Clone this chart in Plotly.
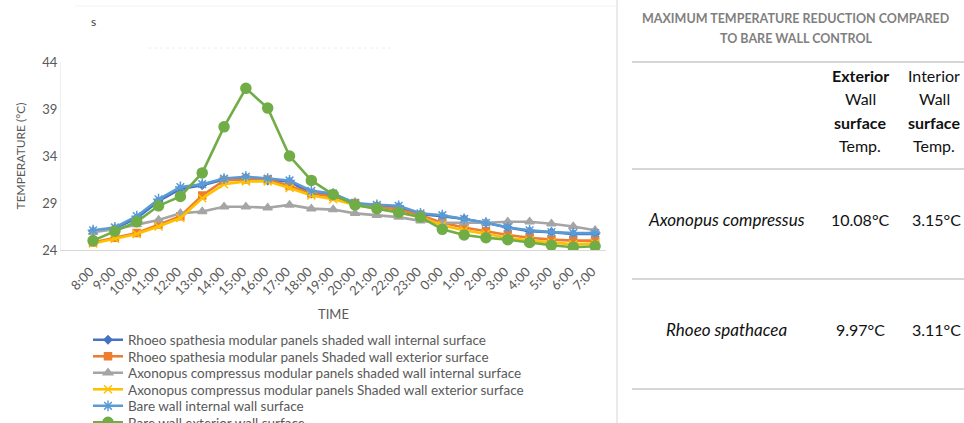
import plotly.graph_objects as go

times = ["8:00", "9:00", "10:00", "11:00", "12:00", "13:00", "14:00", "15:00", "16:00", "17:00",
         "18:00", "19:00", "20:00", "21:00", "22:00", "23:00", "0:00", "1:00", "2:00", "3:00",
         "4:00", "5:00", "6:00", "7:00"]

rhoeo_internal = [26.0, 26.3, 27.4, 29.2, 30.5, 30.9, 31.5, 31.7, 31.4, 31.3, 30.0, 29.9,
                  28.9, 28.7, 28.6, 27.8, 27.6, 27.3, 26.9, 26.4, 26.0, 25.9, 25.7, 25.7]
rhoeo_exterior = [24.8, 25.3, 25.8, 26.7, 27.6, 29.8, 31.4, 31.5, 31.5, 30.8, 30.0, 29.7,
                  29.0, 28.6, 28.3, 27.7, 26.9, 26.4, 26.0, 25.6, 25.3, 25.1, 25.0, 25.0]
axo_internal = [25.9, 26.2, 26.7, 27.2, 27.9, 28.1, 28.6, 28.6, 28.5, 28.8, 28.4, 28.3,
                27.9, 27.7, 27.5, 27.1, 26.9, 26.9, 26.9, 27.0, 27.0, 26.8, 26.5, 26.1]
axo_exterior = [24.7, 25.2, 25.7, 26.5, 27.4, 29.5, 31.0, 31.3, 31.3, 30.6, 29.8, 29.4,
                28.8, 28.4, 28.0, 27.5, 26.6, 26.1, 25.7, 25.3, 25.0, 24.8, 24.6, 24.7]
bare_internal = [26.1, 26.4, 27.6, 29.4, 30.7, 31.0, 31.6, 31.8, 31.6, 31.4, 30.3, 30.0,
                 29.0, 28.8, 28.7, 27.9, 27.7, 27.3, 26.9, 26.4, 26.1, 25.9, 25.8, 25.8]
bare_exterior = [25.0, 26.0, 27.0, 28.7, 29.7, 32.2, 37.1, 41.2, 39.1, 34.0, 31.4, 29.9,
                 28.8, 28.4, 28.0, 27.5, 26.2, 25.6, 25.3, 25.1, 24.8, 24.5, 24.3, 24.4]

series_names = [
    "Rhoeo spathesia modular panels shaded wall internal surface",
    "Rhoeo spathesia modular panels Shaded wall exterior surface",
    "Axonopus compressus modular panels shaded wall internal surface",
    "Axonopus compressus modular panels Shaded wall exterior surface",
    "Bare wall internal wall surface",
    "Bare wall exterior wall surface",
]
series_values = [rhoeo_internal, rhoeo_exterior, axo_internal, axo_exterior, bare_internal, bare_exterior]

y_ticks = [24, 29, 34, 39, 44]

table_title_lines = ["MAXIMUM TEMPERATURE REDUCTION COMPARED", "TO BARE WALL CONTROL"]
table_species = ["Axonopus compressus", "Rhoeo spathacea"]
table_exterior = ["10.08°C", "9.97°C"]
table_interior = ["3.15°C", "3.11°C"]

colors = ["#4472C4", "#ED7D31", "#A5A5A5", "#FFC000", "#5B9BD5", "#70AD47"]
symbols = ["diamond", "square", "triangle-up", "x-thin", "asterisk-open", "circle"]
msizes = [6, 7, 8, 8, 9, 10]

FONT = "Lato"
W, H = 964, 423
L, R, T, B = 61, 606, 62, 250

def px_x(px):
    return (px - L) / (R - L)

def px_y(py):
    return (B - py) / (B - T)

fig = go.Figure()
legend_ids = ["legend", "legend2", "legend3", "legend4", "legend5", "legend6"]
for name, vals, c, s, ms, lid in zip(series_names, series_values, colors, symbols, msizes, legend_ids):
    fig.add_trace(go.Scatter(
        x=list(range(len(times))), y=vals, name=name, mode="lines+markers",
        line=dict(color=c, width=2.6),
        marker=dict(symbol=s, size=ms, color=c, line=dict(color=c, width=1.5)),
        legend=lid,
    ))

legend_layout = {}
for i, lid in enumerate(legend_ids):
    center = 339 + i * 16.5
    legend_layout[lid] = dict(x=px_x(88), y=px_y(center - 14.5), xanchor="left", yanchor="top",
                              font=dict(size=13.5, color="#595959", family=FONT),
                              bgcolor="rgba(0,0,0,0)")

fig.update_layout(
    width=W, height=H,
    margin=dict(l=L, r=W - R, t=T, b=H - B, autoexpand=False),
    paper_bgcolor="white", plot_bgcolor="white",
    font=dict(family=FONT, color="#595959"),
    showlegend=True,
    xaxis=dict(
        range=[-1.47, 23.5], tickmode="array", tickvals=list(range(len(times))), ticktext=times,
        tickangle=-45, tickfont=dict(size=13, color="#595959"), showgrid=False,
        ticks="outside", ticklen=8, tickcolor="rgba(0,0,0,0)", ticklabelshift=-3,
        showline=True, linecolor="#d9d9d9", linewidth=1, zeroline=False,
        title=dict(text="TIME", font=dict(size=13, color="#595959"), standoff=12),
    ),
    yaxis=dict(
        range=[24, 44], tickvals=y_ticks, tickfont=dict(size=13, color="#595959"),
        showgrid=False, showline=True, linecolor="#eeeeee", zeroline=False, ticks="",
        title=dict(text="TEMPERATURE (°C)", font=dict(size=12, color="#595959"), standoff=14),
    ),
    **legend_layout,
)

shapes = []
shapes.append(dict(type="line", xref="paper", yref="paper", x0=px_x(617), x1=px_x(617),
                   y0=px_y(0), y1=px_y(423), line=dict(color="#e3e3e3", width=1.5)))
shapes.append(dict(type="line", xref="paper", yref="paper", x0=px_x(75), x1=px_x(617),
                   y0=px_y(6), y1=px_y(6), line=dict(color="#f3f3f3", width=1)))
shapes.append(dict(type="line", xref="paper", yref="paper", x0=px_x(148), x1=px_x(393),
                   y0=px_y(48), y1=px_y(48), line=dict(color="#eeeeee", width=1, dash="dot")))
for py in [62, 169, 279, 389]:
    shapes.append(dict(type="line", xref="paper", yref="paper", x0=px_x(632), x1=px_x(964),
                       y0=px_y(py), y1=px_y(py), line=dict(color="#d6d6d6", width=2)))

ann = []
ann.append(dict(text="s", x=px_x(93), y=px_y(22), xref="paper", yref="paper", showarrow=False,
                font=dict(size=12, color="#404040", family=FONT), xanchor="center", yanchor="middle"))
for line_text, py in zip(table_title_lines, [18, 38]):
    ann.append(dict(text="<b>" + line_text + "</b>", x=px_x(796), y=px_y(py), xref="paper", yref="paper",
                    showarrow=False, font=dict(size=12.5, color="#7f7f7f", family=FONT),
                    xanchor="center", yanchor="middle"))

hdr_font = dict(size=16, color="#111111", family=FONT)
sp_font = dict(size=17, color="#111111", family=FONT)
ext_hdr = ["<b>Exterior</b>", "Wall", "<b>surface</b>", "Temp."]
int_hdr = ["Interior", "Wall", "<b>surface</b>", "Temp."]
for e, it, py in zip(ext_hdr, int_hdr, [75, 98, 122, 145]):
    ann.append(dict(text=e, x=px_x(860), y=px_y(py), xref="paper", yref="paper", showarrow=False,
                    font=hdr_font, xanchor="center", yanchor="middle"))
    ann.append(dict(text=it, x=px_x(934), y=px_y(py), xref="paper", yref="paper", showarrow=False,
                    font=hdr_font, xanchor="center", yanchor="middle"))

row_y = [219, 329]
for sp, ex, inn, py in zip(table_species, table_exterior, table_interior, row_y):
    ann.append(dict(text="<i>" + sp + "</i>", x=px_x(726), y=px_y(py), xref="paper", yref="paper",
                    showarrow=False, font=sp_font, xanchor="center", yanchor="middle"))
    ann.append(dict(text=ex, x=px_x(860), y=px_y(py), xref="paper", yref="paper",
                    showarrow=False, font=hdr_font, xanchor="center", yanchor="middle"))
    ann.append(dict(text=inn, x=px_x(936), y=px_y(py), xref="paper", yref="paper",
                    showarrow=False, font=hdr_font, xanchor="center", yanchor="middle"))

fig.update_layout(shapes=shapes, annotations=ann)
fig.write_html("out.html", config={"displayModeBar": False},
               post_script="document.body.style.margin='0';")
